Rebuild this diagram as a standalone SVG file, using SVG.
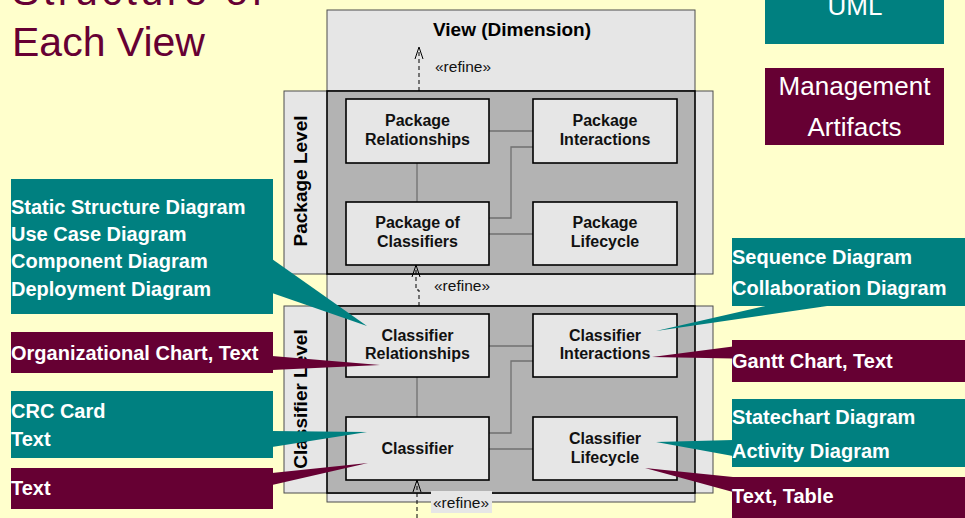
<svg xmlns="http://www.w3.org/2000/svg" width="965" height="518" viewBox="0 0 965 518">
  <style>
    .bg { fill: #FFFFCC; }
    .frame { fill: #E6E6E6; stroke: #4D4D4D; stroke-width: 1; }
    .level { fill: #B3B3B3; stroke: #000; stroke-width: 1.6; }
    .box { fill: #E6E6E6; stroke: #000; stroke-width: 1.6; }
    .link { fill: none; stroke: #707070; stroke-width: 1.3; }
    .dep { fill: none; stroke: #000; stroke-width: 1; stroke-dasharray: 4 3; }
    .head { fill: none; stroke: #000; stroke-width: 1; }
    .lbl { font-family: "Liberation Sans", Arial, sans-serif; font-weight: bold; font-size: 16px; fill: #111; text-anchor: middle; }
    .vlbl { font-family: "Liberation Sans", Arial, sans-serif; font-weight: bold; font-size: 19px; fill: #000; text-anchor: middle; }
    .stereo { font-family: "Liberation Sans", Arial, sans-serif; font-size: 15.5px; fill: #111; }
    .title { font-family: "Liberation Sans", Arial, sans-serif; font-size: 41px; fill: #660033; }
    .teal { fill: #008080; }
    .maroon { fill: #660033; }
    .note { font-family: "Liberation Sans", Arial, sans-serif; font-weight: bold; font-size: 20px; fill: #FFFFFF; }
    .legend { font-family: "Liberation Sans", Arial, sans-serif; font-size: 26px; fill: #FFFFFF; text-anchor: middle; }
  </style>

  <rect class="bg" x="0" y="0" width="965" height="518"/>

  <!-- page title -->
  <g id="title">
    <text class="title" x="12" y="5" font-size="44" textLength="251" lengthAdjust="spacing">Structure of</text>
    <text class="title" x="12" y="56">Each View</text>
  </g>

  <!-- legend -->
  <g id="legend-uml">
    <rect class="teal" x="765" y="-2" width="179" height="46"/>
    <text class="legend" x="855" y="15" font-size="24">UML</text>
  </g>
  <g id="legend-management">
    <rect class="maroon" x="765" y="68" width="179" height="77"/>
    <text class="legend" x="854.5" y="95">Management</text>
    <text class="legend" x="854.5" y="136">Artifacts</text>
  </g>

  <!-- outer view frame -->
  <g id="view">
    <rect class="frame" x="327" y="10" width="368" height="492"/>
    <text class="vlbl" x="512" y="36" font-size="19.5">View (Dimension)</text>
  </g>

  <!-- package level -->
  <g id="package-level">
    <rect class="frame" x="284" y="91" width="429" height="183"/>
    <rect class="level" x="327" y="91" width="368" height="183"/>
    <text class="vlbl" transform="translate(307,181) rotate(-90)">Package Level</text>
  </g>

  <!-- classifier level -->
  <g id="classifier-level">
    <rect class="frame" x="284" y="306" width="429" height="187"/>
    <rect class="level" x="327" y="306" width="368" height="187"/>
    <text class="vlbl" transform="translate(307,399) rotate(-90)">Classifier Level</text>
  </g>

  <!-- connectors -->
  <g id="connectors">
    <!-- package level links -->
    <path class="link" d="M417,163 V202"/>
    <path class="link" d="M489,131 H533"/>
    <path class="link" d="M489,218 H511 V147 H533"/>
    <path class="link" d="M489,234 H533"/>
    <!-- classifier level links -->
    <path class="link" d="M417,377 V417"/>
    <path class="link" d="M489,346 H533"/>
    <path class="link" d="M489,433 H511 V361 H533"/>
    <path class="link" d="M489,449 H533"/>
    <!-- refine dependencies -->
    <path class="dep" d="M419,91 V48"/>
    <path class="head" d="M415,59 L419,47 L423,59"/>
    <path class="dep" d="M419,306 V290 H416 V267"/>
    <path class="head" d="M412,277 L416,265 L420,277"/>
    <path class="dep" d="M417,518 V482"/>
    <path class="head" d="M413,492 L417,480 L421,492"/>
    <rect x="431" y="491" width="61" height="22" fill="#E6E6E6"/>
    <text class="stereo" x="435" y="72">«refine»</text>
    <text class="stereo" x="434" y="291">«refine»</text>
    <text class="stereo" x="433" y="508">«refine»</text>
  </g>

  <!-- package level nodes -->
  <g id="package-relationships">
    <rect class="box" x="346" y="99" width="143" height="64"/>
    <text class="lbl" x="417.5" y="126">Package</text>
    <text class="lbl" x="417.5" y="145">Relationships</text>
  </g>
  <g id="package-interactions">
    <rect class="box" x="533" y="99" width="144" height="64"/>
    <text class="lbl" x="605" y="126">Package</text>
    <text class="lbl" x="605" y="145">Interactions</text>
  </g>
  <g id="package-of-classifiers">
    <rect class="box" x="346" y="202" width="143" height="63"/>
    <text class="lbl" x="417.5" y="228">Package of</text>
    <text class="lbl" x="417.5" y="247">Classifiers</text>
  </g>
  <g id="package-lifecycle">
    <rect class="box" x="533" y="202" width="144" height="63"/>
    <text class="lbl" x="605" y="228">Package</text>
    <text class="lbl" x="605" y="247">Lifecycle</text>
  </g>

  <!-- classifier level nodes -->
  <g id="classifier-relationships">
    <rect class="box" x="346" y="314" width="143" height="63"/>
    <text class="lbl" x="417.5" y="341">Classifier</text>
    <text class="lbl" x="417.5" y="359">Relationships</text>
  </g>
  <g id="classifier-interactions">
    <rect class="box" x="533" y="314" width="144" height="63"/>
    <text class="lbl" x="605" y="341">Classifier</text>
    <text class="lbl" x="605" y="359">Interactions</text>
  </g>
  <g id="classifier">
    <rect class="box" x="346" y="417" width="143" height="63"/>
    <text class="lbl" x="417.5" y="454">Classifier</text>
  </g>
  <g id="classifier-lifecycle">
    <rect class="box" x="533" y="417" width="144" height="63"/>
    <text class="lbl" x="605" y="444">Classifier</text>
    <text class="lbl" x="605" y="463">Lifecycle</text>
  </g>

  <!-- artifact callouts, left -->
  <g id="note-static-structure">
    <rect class="teal" x="11" y="179" width="262" height="135"/>
    <polygon class="teal" points="272,259 367,326 272,293"/>
    <text class="note" x="11" y="214">Static Structure Diagram</text>
    <text class="note" x="11" y="241">Use Case Diagram</text>
    <text class="note" x="11" y="268">Component Diagram</text>
    <text class="note" x="11" y="296">Deployment Diagram</text>
  </g>
  <g id="note-org-chart">
    <rect class="maroon" x="11" y="332" width="262" height="41"/>
    <polygon class="maroon" points="272,356 380,365 272,370"/>
    <text class="note" x="11" y="360">Organizational Chart, Text</text>
  </g>
  <g id="note-crc">
    <rect class="teal" x="11" y="391" width="262" height="67"/>
    <polygon class="teal" points="272,431 367,432 272,447"/>
    <text class="note" x="11" y="418">CRC Card</text>
    <text class="note" x="11" y="446">Text</text>
  </g>
  <g id="note-text">
    <rect class="maroon" x="11" y="468" width="262" height="41"/>
    <polygon class="maroon" points="272,473 368,463 272,485"/>
    <text class="note" x="11" y="495">Text</text>
  </g>

  <!-- artifact callouts, right -->
  <g id="note-sequence">
    <rect class="teal" x="732" y="238" width="240" height="68"/>
    <polygon class="teal" points="770,305 656,331 834,305"/>
    <text class="note" x="732" y="264">Sequence Diagram</text>
    <text class="note" x="732" y="295">Collaboration Diagram</text>
  </g>
  <g id="note-gantt">
    <rect class="maroon" x="732" y="340" width="240" height="42"/>
    <polygon class="maroon" points="733,346.5 652,357 733,358.5"/>
    <text class="note" x="732" y="368">Gantt Chart, Text</text>
  </g>
  <g id="note-statechart">
    <rect class="teal" x="732" y="399" width="240" height="68"/>
    <polygon class="teal" points="733,440 656,442 733,456"/>
    <text class="note" x="732" y="424">Statechart Diagram</text>
    <text class="note" x="732" y="458">Activity Diagram</text>
  </g>
  <g id="note-text-table">
    <rect class="maroon" x="732" y="477" width="240" height="45"/>
    <polygon class="maroon" points="645,468 733,477 733,492"/>
    <text class="note" x="732" y="503">Text, Table</text>
  </g>
</svg>
